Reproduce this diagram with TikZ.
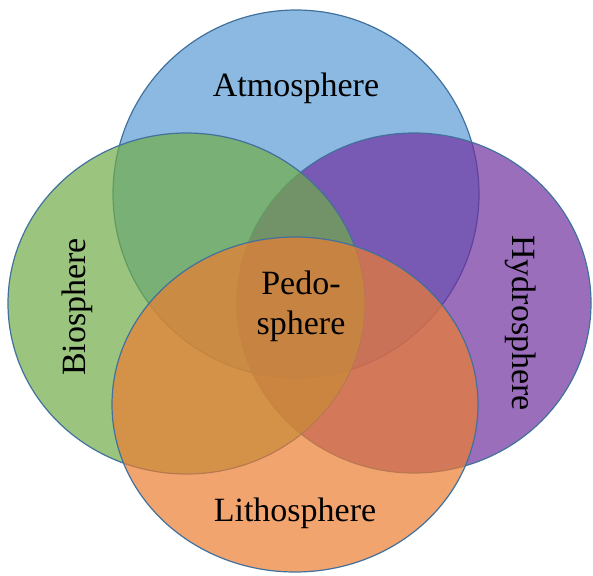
\documentclass[tikz,border=0pt]{standalone}
\usepackage{fontspec}
\setmainfont{Liberation Serif}
\usepackage{tikz}

\definecolor{atmo}{HTML}{5B9BD5}
\definecolor{bio}{HTML}{70AD47}
\definecolor{hydro}{HTML}{7030A0}
\definecolor{litho}{HTML}{ED7D31}
\definecolor{rim}{HTML}{41719C}

\begin{document}
\begin{tikzpicture}[x=1pt,y=-1pt,
  sphere/.style={fill opacity=0.7,draw=rim,line width=1.2pt},
  word/.style={font=\fontsize{34}{40}\selectfont,inner sep=0pt}]
\useasboundingbox (0,0) rectangle (593,575);

% the four spheres
\filldraw[sphere,fill=atmo]  (296,194)   ellipse [x radius=183,y radius=184];
\filldraw[sphere,fill=hydro] (414,303)   ellipse [x radius=177,y radius=170];
\filldraw[sphere,fill=bio]   (186.5,303.5) ellipse [x radius=178.5,y radius=170.5];
\filldraw[sphere,fill=litho] (295,404.5) ellipse [x radius=183,y radius=167.5];

% labels
\node[word]            (atm) at (296,88)  {Atmosphere};
\node[word,rotate=90]  (bio) at (77,307)  {Biosphere};
\node[word,rotate=-90] (hyd) at (521,323) {Hydrosphere};
\node[word]            (lit) at (295,513) {Lithosphere};
\node[word,align=center] (ped) at (301,306) {Pedo-\\sphere};
\end{tikzpicture}
\end{document}
